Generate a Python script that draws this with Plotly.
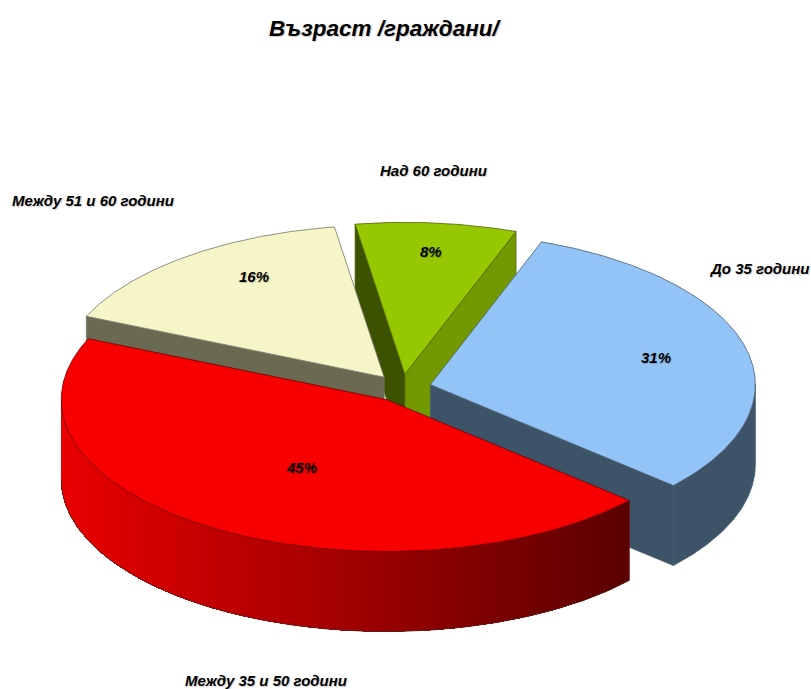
import math
import plotly.graph_objects as go

# Data
categories = ["До 35 години", "Между 35 и 50 години", "Между 51 и 60 години", "Над 60 години"]
values = [31, 45, 16, 8]
title_text = "Възраст /граждани/"

# Styling
W, H = 811, 689
FIRST_ANGLE = 20.0
EXPLODE = 0.09
RX, RY = 325.0, 152.0      # pixels per pie radius, after tilt
CX, CY = 402.0, 388.0      # pixel position of the pie centre
DEPTH = 80 / RY
top_colors = ["#93C4F7", "#F80000", "#F5F5C8", "#96C800"]
edge_colors = ["#4A5C6E", "#700000", "#77776A", "#4A6000"]
wall_colors = ["#3D5368", None, "#6A6A52", "#739900"]
start_wall_colors = {3: "#3D5200"}
label_px = [(759, 268), (266, 680), (93, 200), (433, 170)]
pct_px = [(656, 357), (301, 467), (254, 276), (431, 252)]
draw_order = [3, 2, 0, 1]
GRADIENT_BANDS = 140


def pt(t, r=1.0):
    a = math.radians(t)
    return r * math.sin(a), r * math.cos(a)


def arc(t0, t1, n=None):
    n = n or max(2, int(abs(t1 - t0) * 2))
    return [t0 + (t1 - t0) * i / n for i in range(n + 1)]


def rgb(v):
    return f"rgb({int(round(v))},0,0)"


fig = go.Figure()


def poly(xs, ys, fill, line=None, width=0.8):
    fig.add_trace(go.Scatter(
        x=xs + xs[:1], y=ys + ys[:1], mode="lines", fill="toself", fillcolor=fill,
        line=dict(color=line if line else fill, width=width if line else 0),
        hoverinfo="skip", showlegend=False))


total = sum(values)
spans = []
cur = FIRST_ANGLE
for v in values:
    spans.append((cur, cur + v / total * 360))
    cur += v / total * 360

for i in draw_order:
    t0, t1 = spans[i]
    bx, by = pt((t0 + t1) / 2, EXPLODE)
    edge = edge_colors[i]

    def cut_face(t, color):
        px, py = pt(t)
        poly([bx, bx + px, bx + px, bx],
             [by, by + py, by + py - DEPTH, by - DEPTH], color, edge)

    # straight cut faces that turn towards the viewer
    if math.cos(math.radians(t0 - 90)) < 0:
        cut_face(t0, start_wall_colors.get(i, wall_colors[i]))
    if math.cos(math.radians(t1 + 90)) < 0:
        cut_face(t1, wall_colors[i])

    # outer wall: the part of the rim that faces the viewer
    w0, w1 = max(t0, 90), min(t1, 270)
    if w0 < w1:
        if wall_colors[i] is None:
            ts = arc(w0, w1, 180)
            x_hi, x_lo = math.sin(math.radians(w0)), math.sin(math.radians(w1))
            # bands of equal width across the screen, painted from the dark end
            # onward; each covers all that remains, so no seams show between them
            for k in range(GRADIENT_BANDS):
                x_a = x_hi + (x_lo - x_hi) * k / GRADIENT_BANDS
                x_b = x_hi + (x_lo - x_hi) * (k + 1) / GRADIENT_BANDS
                t_a = 180 - math.degrees(math.asin(max(-1, min(1, x_a))))
                rest = [t_a] + [t for t in ts if t > t_a]
                xs = [bx + pt(t)[0] for t in rest]
                yt = [by + pt(t)[1] for t in rest]
                yb = [y - DEPTH for y in yt]
                mid_px = CX + RX * (bx + (x_a + x_b) / 2)
                shade = max(88, min(236, 232 - (mid_px - 62) * 0.25))
                poly(xs + xs[::-1], yt + yb[::-1], rgb(shade))
            ts = arc(w0, w1)
            fig.add_trace(go.Scatter(
                x=[bx + pt(t)[0] for t in ts], y=[by + pt(t)[1] - DEPTH for t in ts],
                mode="lines", line=dict(color="#5A2020", width=0.8),
                hoverinfo="skip", showlegend=False))
            x, y = pt(w0)
            fig.add_trace(go.Scatter(
                x=[bx + x, bx + x], y=[by + y, by + y - DEPTH], mode="lines",
                line=dict(color=edge, width=0.8), hoverinfo="skip", showlegend=False))
        else:
            ts = arc(w0, w1)
            xs = [bx + pt(t)[0] for t in ts]
            yt = [by + pt(t)[1] for t in ts]
            yb = [y - DEPTH for y in yt]
            poly(xs + xs[::-1], yt + yb[::-1], wall_colors[i], edge)

    # top face
    ts = arc(t0, t1)
    poly([bx] + [bx + pt(t)[0] for t in ts], [by] + [by + pt(t)[1] for t in ts],
         top_colors[i], edge)

FONT = "Liberation Sans"
SHADOW = "1px 1px 1px rgba(0,0,0,0.2)"


def note(text, x, y, size):
    return dict(text=f"<b><i>{text}</i></b>", x=x / W, y=1 - y / H,
                xref="paper", yref="paper", showarrow=False, xanchor="center", yanchor="middle",
                font=dict(size=size, color="#000000", family=FONT, shadow=SHADOW))


ann = [note(title_text, 385.5, 28, 22.5)]
ann += [note(c, x, y, 15) for (x, y), c in zip(label_px, categories)]
ann += [note(f"{v}%", x, y, 15) for (x, y), v in zip(pct_px, values)]

fig.update_layout(
    width=W, height=H, margin=dict(l=0, r=0, t=0, b=0),
    paper_bgcolor="white", plot_bgcolor="white", showlegend=False, annotations=ann,
    xaxis=dict(range=[(0 - CX) / RX, (W - CX) / RX], visible=False, fixedrange=True),
    yaxis=dict(range=[(CY - H) / RY, CY / RY], visible=False, fixedrange=True),
)
fig.write_html("out.html", config=dict(displayModeBar=False),
               post_script="document.body.style.margin='0';document.documentElement.style.overflow='hidden';")
